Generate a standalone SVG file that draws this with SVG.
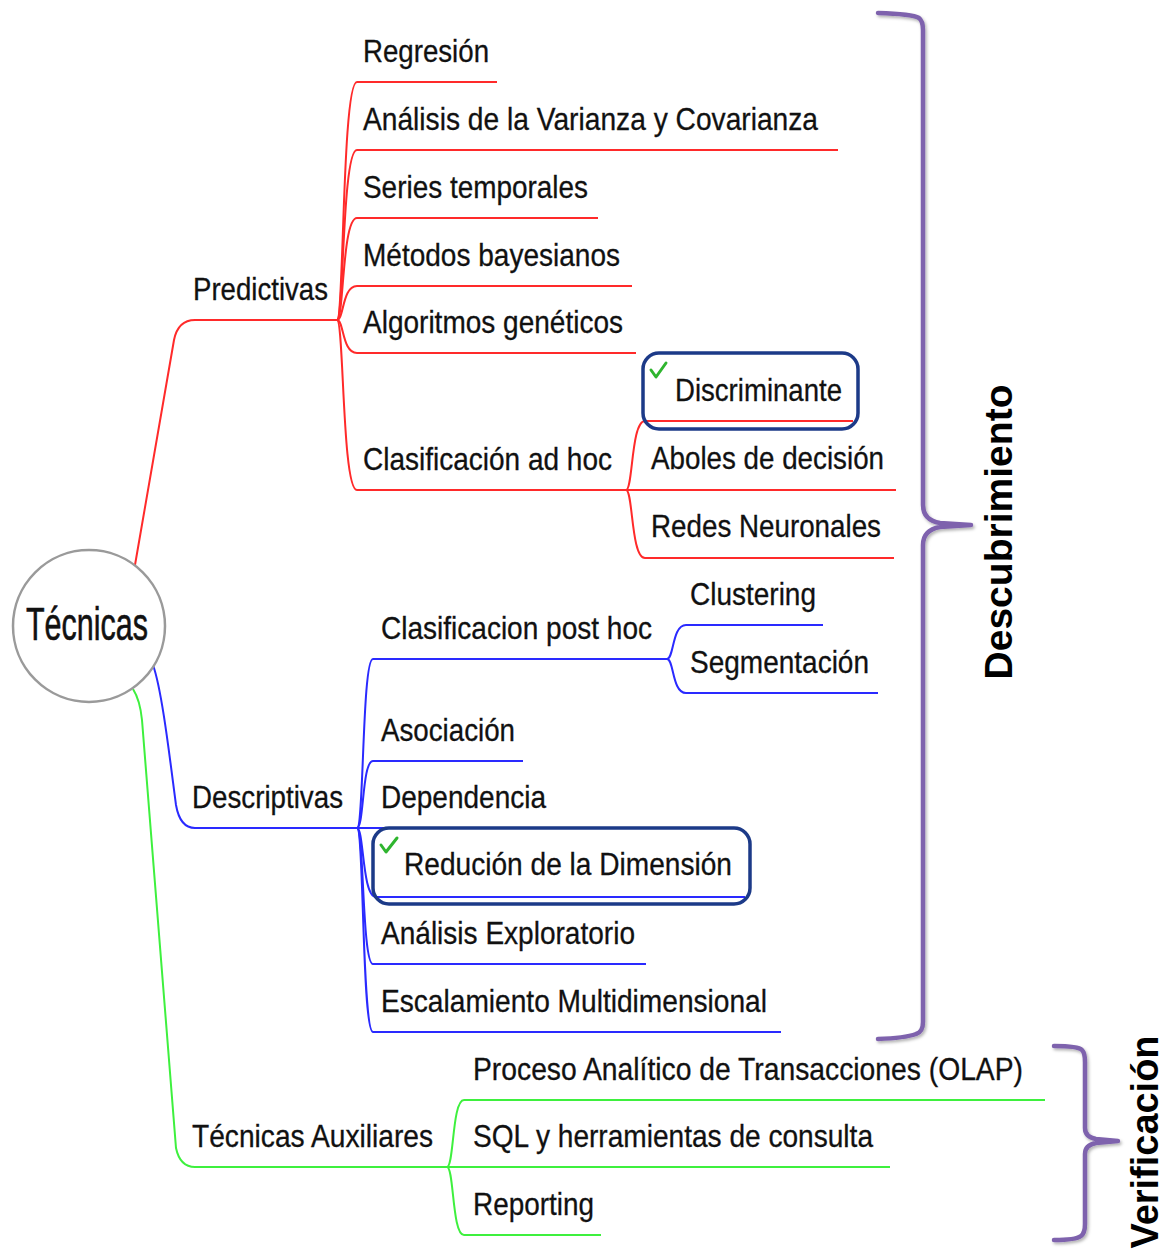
<svg xmlns="http://www.w3.org/2000/svg" width="1164" height="1249" viewBox="0 0 1164 1249">
<style>
  .t { font-family: "Liberation Sans", Arial, sans-serif; font-size: 32px; fill: #111; stroke: #111; stroke-width: 0.3; }
  .root { font-family: "Liberation Sans", Arial, sans-serif; font-size: 46px; fill: #111; stroke: #111; stroke-width: 0.6; }
  .v { font-family: "Liberation Sans", Arial, sans-serif; font-size: 38px; font-weight: bold; fill: #000; }
  .r { fill: none; stroke: #ff2a2a; stroke-width: 2; }
  .b { fill: none; stroke: #2a2aff; stroke-width: 2; }
  .g { fill: none; stroke: #3ef03e; stroke-width: 2; }
  .brace { fill: none; stroke: #7e62ad; stroke-width: 4.5; stroke-linecap: round; stroke-linejoin: round; }
  .box { fill: none; stroke: #1c3a88; stroke-width: 3.5; }
  .tick { fill: none; stroke: #2fb52f; stroke-width: 3; stroke-linecap: round; stroke-linejoin: round; }
</style>
<defs>
  <filter id="sh" x="-20%" y="-5%" width="140%" height="110%">
    <feDropShadow dx="1.5" dy="2" stdDeviation="1.5" flood-color="#000" flood-opacity="0.3"/>
  </filter>
</defs>
<rect width="1164" height="1249" fill="#fff"/>

<g id="connectors">
  <path class="r" d="M135 565 L174 340 Q178 320 195 320 L337 320"/>
  <path class="b" d="M153 665 C162 690 170 760 176 805 Q180 828 195 828 L357 828"/>
  <path class="g" d="M133 689 Q140 700 142 720 L176 1148 Q180 1167 195 1167 L447 1167"/>
  <path class="r" d="M337 320 C344 320 342 82 357 82 L497 82"/>
  <path class="r" d="M337 320 C344 320 342 150 357 150 L838 150"/>
  <path class="r" d="M337 320 C344 320 342 218 357 218 L598 218"/>
  <path class="r" d="M337 320 C344 320 342 286 357 286 L632 286"/>
  <path class="r" d="M337 320 C344 320 342 353 357 353 L636 353"/>
  <path class="r" d="M337 320 C344 320 342 490 357 490 L626 490"/>
  <path class="r" d="M626 490 C633 490 631 421 645 421 L853 421"/>
  <path class="r" d="M626 490 L896 490"/>
  <path class="r" d="M626 490 C633 490 631 558 645 558 L894 558"/>
  <path class="b" d="M357 828 C364 828 362 659 373 659 L667 659"/>
  <path class="b" d="M357 828 C364 828 362 761 373 761 L523 761"/>
  <path class="b" d="M357 828 L548 828"/>
  <path class="b" d="M357 828 C364 828 362 897 376 897 L745 897"/>
  <path class="b" d="M357 828 C364 828 362 964 373 964 L646 964"/>
  <path class="b" d="M357 828 C364 828 362 1032 373 1032 L781 1032"/>
  <path class="b" d="M667 659 C674 659 672 625 686 625 L823 625"/>
  <path class="b" d="M667 659 C674 659 672 693 686 693 L878 693"/>
  <path class="g" d="M447 1167 C454 1167 452 1100 464 1100 L1045 1100"/>
  <path class="g" d="M447 1167 L890 1167"/>
  <path class="g" d="M447 1167 C454 1167 452 1235 464 1235 L601 1235"/>
</g>

<g id="root">
  <circle cx="89" cy="626" r="76" fill="#fff" stroke="#9a9a9a" stroke-width="2.5"/>
  <text class="root" x="87" y="640" text-anchor="middle" textLength="122" lengthAdjust="spacingAndGlyphs">Técnicas</text>
</g>

<g id="predictivas"><text class="t" x="193" y="300" textLength="135" lengthAdjust="spacingAndGlyphs">Predictivas</text></g>
<g id="regresion"><text class="t" x="363" y="62" textLength="126" lengthAdjust="spacingAndGlyphs">Regresión</text></g>
<g id="analisis-varianza"><text class="t" x="363" y="130" textLength="455" lengthAdjust="spacingAndGlyphs">Análisis de la Varianza y Covarianza</text></g>
<g id="series"><text class="t" x="363" y="198" textLength="225" lengthAdjust="spacingAndGlyphs">Series temporales</text></g>
<g id="bayesianos"><text class="t" x="363" y="266" textLength="257" lengthAdjust="spacingAndGlyphs">Métodos bayesianos</text></g>
<g id="geneticos"><text class="t" x="363" y="333" textLength="260" lengthAdjust="spacingAndGlyphs">Algoritmos genéticos</text></g>
<g id="clasif-adhoc"><text class="t" x="363" y="470" textLength="249" lengthAdjust="spacingAndGlyphs">Clasificación ad hoc</text></g>
<g id="discriminante">
  <rect class="box" x="643" y="353" width="215" height="76" rx="16"/>
  <path class="tick" d="M651 370 L656 377 L666 363"/>
  <text class="t" x="675" y="401" textLength="167" lengthAdjust="spacingAndGlyphs">Discriminante</text>
</g>
<g id="arboles"><text class="t" x="651" y="469" textLength="233" lengthAdjust="spacingAndGlyphs">Aboles de decisión</text></g>
<g id="redes"><text class="t" x="651" y="537" textLength="230" lengthAdjust="spacingAndGlyphs">Redes Neuronales</text></g>

<g id="descriptivas"><text class="t" x="192" y="808" textLength="151" lengthAdjust="spacingAndGlyphs">Descriptivas</text></g>
<g id="clasif-posthoc"><text class="t" x="381" y="639" textLength="271" lengthAdjust="spacingAndGlyphs">Clasificacion post hoc</text></g>
<g id="clustering"><text class="t" x="690" y="605" textLength="126" lengthAdjust="spacingAndGlyphs">Clustering</text></g>
<g id="segmentacion"><text class="t" x="690" y="673" textLength="179" lengthAdjust="spacingAndGlyphs">Segmentación</text></g>
<g id="asociacion"><text class="t" x="381" y="741" textLength="134" lengthAdjust="spacingAndGlyphs">Asociación</text></g>
<g id="dependencia"><text class="t" x="381" y="808" textLength="165" lengthAdjust="spacingAndGlyphs">Dependencia</text></g>
<g id="reduccion">
  <rect class="box" x="373" y="828" width="377" height="76" rx="16"/>
  <path class="tick" d="M381 845 L386 852 L397 838"/>
  <text class="t" x="404" y="875" textLength="328" lengthAdjust="spacingAndGlyphs">Redución de la Dimensión</text>
</g>
<g id="exploratorio"><text class="t" x="381" y="944" textLength="254" lengthAdjust="spacingAndGlyphs">Análisis Exploratorio</text></g>
<g id="escalamiento"><text class="t" x="381" y="1012" textLength="386" lengthAdjust="spacingAndGlyphs">Escalamiento Multidimensional</text></g>

<g id="auxiliares"><text class="t" x="192" y="1147" textLength="241" lengthAdjust="spacingAndGlyphs">Técnicas Auxiliares</text></g>
<g id="olap"><text class="t" x="473" y="1080" textLength="550" lengthAdjust="spacingAndGlyphs">Proceso Analítico de Transacciones (OLAP)</text></g>
<g id="sql"><text class="t" x="473" y="1147" textLength="400" lengthAdjust="spacingAndGlyphs">SQL y herramientas de consulta</text></g>
<g id="reporting"><text class="t" x="473" y="1215" textLength="121" lengthAdjust="spacingAndGlyphs">Reporting</text></g>

<g id="descubrimiento">
  <path class="brace" filter="url(#sh)" d="M878 13 Q912 14 919 18 Q923 21 923 30 L923 505 Q923 520 940 523 L971 525 L940 527 Q923 530 923 545 L923 1022 Q923 1032 916 1034 Q905 1038 878 1039"/>
  <text class="v" transform="translate(1012 532) rotate(-90)" text-anchor="middle" textLength="295" lengthAdjust="spacingAndGlyphs">Descubrimiento</text>
</g>
<g id="verificacion">
  <path class="brace" filter="url(#sh)" d="M1054 1046 Q1078 1046 1082 1050 Q1085 1053 1085 1062 L1085 1128 Q1085 1137 1096 1139 L1118 1141 L1096 1143 Q1085 1145 1085 1154 L1085 1224 Q1085 1233 1081 1236 Q1076 1240 1054 1240"/>
  <text class="v" transform="translate(1158 1142) rotate(-90)" text-anchor="middle" textLength="213" lengthAdjust="spacingAndGlyphs">Verificación</text>
</g>
</svg>
